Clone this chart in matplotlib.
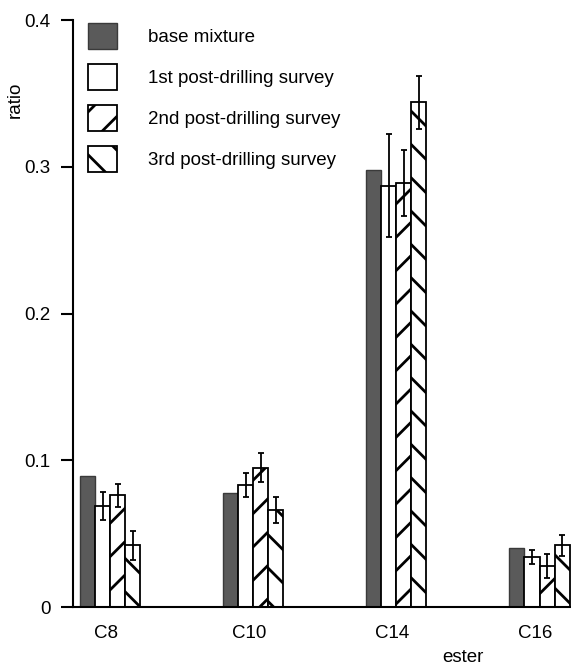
import numpy as np
import matplotlib
matplotlib.use("Agg")
import matplotlib.pyplot as plt
from matplotlib.patches import Patch

plt.rcParams['font.family'] = ['Liberation Sans', 'DejaVu Sans']
plt.rcParams['hatch.linewidth'] = 2.0

categories = ["C8", "C10", "C14", "C16"]
series = ["base mixture", "1st post-drilling survey",
          "2nd post-drilling survey", "3rd post-drilling survey"]

base = [0.089, 0.078, 0.298, 0.040]
survey1 = [0.069, 0.083, 0.287, 0.034]
survey2 = [0.076, 0.095, 0.289, 0.028]
survey3 = [0.042, 0.066, 0.344, 0.042]
err1 = [0.0095, 0.008, 0.035, 0.005]
err2 = [0.008, 0.010, 0.0225, 0.008]
err3 = [0.010, 0.009, 0.018, 0.007]

fs = 13.5

fig = plt.figure(figsize=(5.71, 6.71), dpi=100)
ax = fig.add_axes([73 / 571, 64 / 671, 498 / 571, 587 / 671])

x = np.arange(len(categories))
w = 0.105
offs = [-1.5 * w, -0.5 * w, 0.5 * w, 1.5 * w]
ekw = dict(elinewidth=1.3, capthick=1.3, ecolor="black")

ax.bar(x + offs[0], base, w, color="#5a5a5a", edgecolor="#3a3a3a", linewidth=1.0)
ax.bar(x + offs[1], survey1, w, color="white", edgecolor="black", linewidth=1.3,
       yerr=err1, capsize=2.5, error_kw=ekw)
ax.bar(x + offs[2], survey2, w, color="white", edgecolor="black", linewidth=1.3, hatch="/",
       yerr=err2, capsize=2.5, error_kw=ekw)
ax.bar(x + offs[3], survey3, w, color="white", edgecolor="black", linewidth=1.3, hatch="\\",
       yerr=err3, capsize=2.5, error_kw=ekw)

ax.set_xlim(-0.26, 3.22)
ax.set_ylim(0, 0.4)
ax.set_yticks([0, 0.1, 0.2, 0.3, 0.4])
ax.set_yticklabels(["0", "0.1", "0.2", "0.3", "0.4"])
ax.set_xticks(x - 0.03)
ax.set_xticklabels(categories)
ax.tick_params(axis="x", length=0, pad=13, labelsize=fs)
ax.tick_params(axis="y", length=9, width=1.5, pad=7, labelsize=fs)
for s in ["top", "right"]:
    ax.spines[s].set_visible(False)
ax.spines["left"].set_linewidth(1.5)
ax.spines["bottom"].set_linewidth(1.5)

handles = [Patch(facecolor="#5a5a5a", edgecolor="#3a3a3a"),
           Patch(facecolor="white", edgecolor="black", linewidth=1.3),
           Patch(facecolor="white", edgecolor="black", linewidth=1.3, hatch="/"),
           Patch(facecolor="white", edgecolor="black", linewidth=1.3, hatch="\\")]
ax.legend(handles, series, loc="upper left", frameon=False, fontsize=fs,
          bbox_to_anchor=(88 / 571, 1 - 23 / 671), bbox_transform=fig.transFigure,
          borderpad=0, borderaxespad=0, handlelength=1.55, handleheight=1.75,
          labelspacing=0.8, handletextpad=1.65)

fig.text(15 / 571, 1 - 100 / 671, "ratio", rotation=90, ha="center", va="center", fontsize=fs)
fig.text(463 / 571, 1 - 658 / 671, "ester", ha="center", va="center", fontsize=fs)

fig.savefig("out.png", dpi=100)
